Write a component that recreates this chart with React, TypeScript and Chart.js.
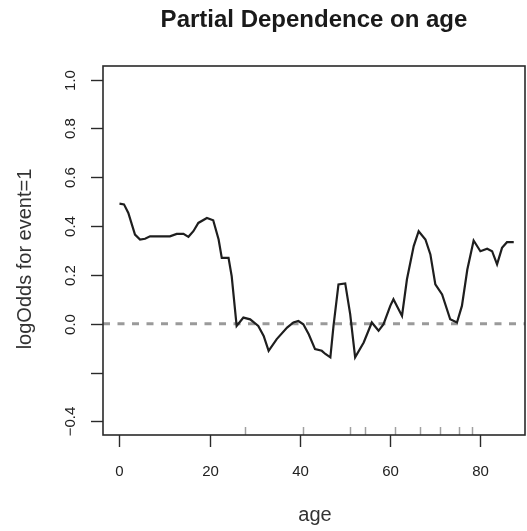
import React, { useEffect, useRef } from "react";
import { Chart, registerables } from "chart.js";

Chart.register(...registerables);

const TITLE = "Partial Dependence on age";
const X_LABEL = "age";
const Y_LABEL = "logOdds for event=1";

const AGE = [
  0, 1.0, 1.96, 3.44, 4.56, 5.67, 6.78, 11.2, 12.7, 14.2, 15.3, 16.4, 17.5, 19.4,
  20.8, 22.0, 22.7, 24.2, 24.9, 26.0, 27.5, 29.0, 30.8, 32.0, 33.1, 34.9, 37.2,
  38.6, 39.7, 40.8, 42.0, 43.4, 44.9, 45.7, 46.8, 47.5, 48.6, 50.1, 51.2, 52.3,
  54.2, 56.0, 57.5, 58.6, 60.1, 60.8, 62.7, 63.8, 65.3, 66.4, 67.9, 69.0, 70.1,
  71.6, 73.4, 74.9, 76.0, 77.2, 78.6, 80.1, 81.6, 82.7, 83.8, 84.9, 86.0, 87.5,
];
const LOG_ODDS = [
  0.492, 0.489, 0.454, 0.365, 0.345, 0.348, 0.358, 0.358, 0.368, 0.368, 0.356,
  0.379, 0.413, 0.433, 0.424, 0.345, 0.27, 0.27, 0.195, -0.009, 0.025, 0.018,
  -0.009, -0.05, -0.111, -0.063, -0.016, 0.005, 0.011, -0.002, -0.043, -0.104,
  -0.111, -0.124, -0.138, -0.009, 0.161, 0.165, 0.039, -0.138, -0.077, 0.005,
  -0.029, -0.002, 0.073, 0.1, 0.032, 0.182, 0.318, 0.379, 0.345, 0.284, 0.161,
  0.12, 0.018, 0.005, 0.073, 0.222, 0.341, 0.297, 0.307, 0.297, 0.243, 0.311,
  0.334, 0.334,
];

const RUG_AGES = [27.9, 40.8, 51.2, 54.6, 61.2, 66.8, 71.1, 75.3, 78.3];

const X_TICKS = [0, 20, 40, 60, 80];
const X_TICK_LABELS = ["0", "20", "40", "60", "80"];
const Y_TICKS = [-0.4, -0.2, 0, 0.2, 0.4, 0.6, 0.8, 1.0];
const Y_TICK_LABELS = ["\u22120.4", "", "0.0", "0.2", "0.4", "0.6", "0.8", "1.0"];

const X_MIN = -3.66;
const X_MAX = 90.0;
const Y_MIN = -0.456;
const Y_MAX = 1.056;

const FONT = '"Liberation Sans", Arial, Helvetica, sans-serif';

const rPlotPlugin = {
  id: "rPlot",
  afterDatasetsDraw(chart: any) {
    const { ctx, chartArea, scales } = chart;
    const xs = scales.x;
    const ys = scales.y;
    const { left, right, top, bottom } = chartArea;
    ctx.save();

    // rug
    ctx.strokeStyle = "#a0a0a0";
    ctx.lineWidth = 1.5;
    RUG_AGES.forEach((a) => {
      const px = Math.round(xs.getPixelForValue(a)) + 0.5;
      ctx.beginPath();
      ctx.moveTo(px, bottom);
      ctx.lineTo(px, bottom - 8);
      ctx.stroke();
    });

    // box
    ctx.strokeStyle = "#2a2a2a";
    ctx.lineWidth = 1.6;
    ctx.strokeRect(left, top, right - left, bottom - top);

    // x ticks
    ctx.lineWidth = 1.4;
    ctx.fillStyle = "#222";
    ctx.font = `15px ${FONT}`;
    ctx.textAlign = "center";
    ctx.textBaseline = "alphabetic";
    X_TICKS.forEach((v, i) => {
      const px = Math.round(xs.getPixelForValue(v)) + 0.5;
      ctx.beginPath();
      ctx.moveTo(px, bottom);
      ctx.lineTo(px, bottom + 12);
      ctx.stroke();
      ctx.fillText(X_TICK_LABELS[i], px, 476);
    });

    // y ticks
    Y_TICKS.forEach((v, i) => {
      const py = Math.round(ys.getPixelForValue(v)) + 0.5;
      ctx.beginPath();
      ctx.moveTo(left, py);
      ctx.lineTo(left - 12, py);
      ctx.stroke();
      if (Y_TICK_LABELS[i]) {
        ctx.save();
        ctx.translate(75, py);
        ctx.rotate(-Math.PI / 2);
        ctx.fillText(Y_TICK_LABELS[i], 0, 0);
        ctx.restore();
      }
    });

    // titles
    const cx = (left + right) / 2;
    ctx.font = `bold 24px ${FONT}`;
    ctx.fillStyle = "#1a1a1a";
    ctx.fillText(TITLE, cx, 27);

    ctx.font = `20px ${FONT}`;
    ctx.fillStyle = "#333";
    ctx.fillText(X_LABEL, cx + 1, 521);

    ctx.save();
    ctx.translate(31, 259);
    ctx.rotate(-Math.PI / 2);
    ctx.fillText(Y_LABEL, 0, 0);
    ctx.restore();

    ctx.restore();
  },
};

export default function App() {
  const ref = useRef<HTMLCanvasElement | null>(null);

  useEffect(() => {
    if (!ref.current) return;
    const curve = AGE.map((a, i) => ({ x: a, y: LOG_ODDS[i] }));
    const zero = [
      { x: X_MIN, y: 0 },
      { x: X_MAX, y: 0 },
    ];
    const chart = new Chart(ref.current, {
      type: "scatter",
      data: {
        datasets: [
          {
            label: "partial dependence",
            data: curve,
            showLine: true,
            borderColor: "#1e1e1e",
            borderWidth: 2.2,
            pointRadius: 0,
            tension: 0,
            order: 0,
          },
          {
            label: "zero",
            data: zero,
            showLine: true,
            borderColor: "#9a9a9a",
            borderWidth: 3,
            borderDash: [7, 7.5],
            pointRadius: 0,
            order: 1,
          },
        ],
      },
      options: {
        responsive: false,
        animation: false,
        devicePixelRatio: 1,
        layout: { padding: { left: 103, top: 66, right: 2, bottom: 96 } },
        plugins: {
          legend: { display: false },
          tooltip: { enabled: false },
          title: { display: false },
        },
        scales: {
          x: { type: "linear", min: X_MIN, max: X_MAX, display: false },
          y: { type: "linear", min: Y_MIN, max: Y_MAX, display: false },
        },
      },
      plugins: [rPlotPlugin],
    });
    return () => chart.destroy();
  }, []);

  return (
    <div style={{ position: "absolute", left: 0, top: 0, width: 527, height: 531, background: "#fff" }}>
      <canvas ref={ref} width={527} height={531} />
    </div>
  );
}
